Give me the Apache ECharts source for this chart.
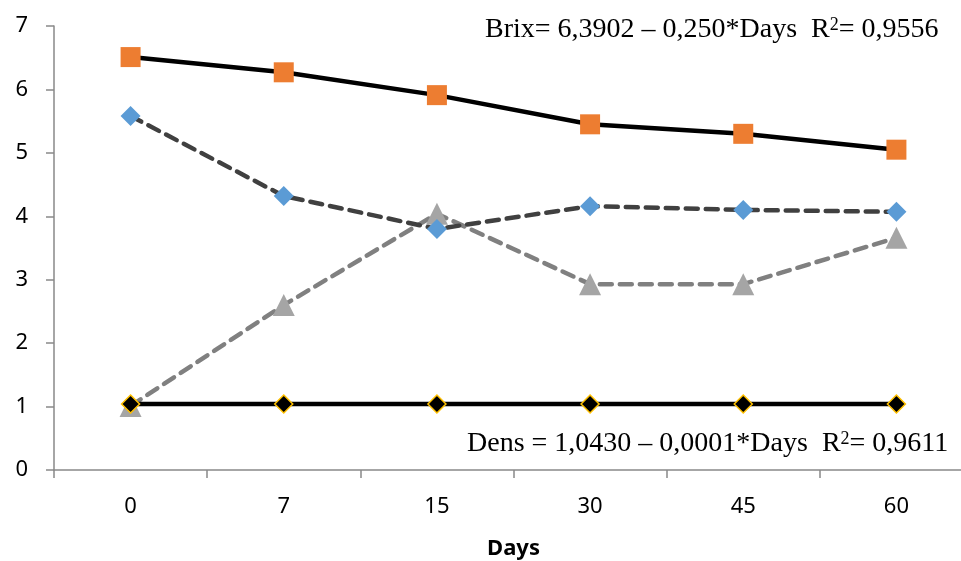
<!DOCTYPE html>
<html>
<head>
<meta charset="utf-8">
<script src="https://cdn.jsdelivr.net/npm/echarts@6/dist/echarts.min.js"></script>
<style>
  html, body { margin: 0; padding: 0; background: #fff; overflow: hidden; }
  #chart { width: 961px; height: 561px; }
</style>
</head>
<body>
<div id="chart"></div>
<script>
// values
const days = ['0', '7', '15', '30', '45', '60'];
const brix = [6.51, 6.27, 5.91, 5.45, 5.30, 5.05];
const blueSeries = [5.58, 4.32, 3.80, 4.16, 4.10, 4.07];
const graySeries = [1.01, 2.60, 4.04, 2.93, 2.93, 3.66];
const dens = [1.04, 1.04, 1.04, 1.04, 1.04, 1.04];
const yTicks = { min: 0, max: 7, interval: 1 };

const chart = echarts.init(document.getElementById('chart'));

const axisColor = '#898989';
const labelFont = '"Noto Sans", sans-serif';
const serif = '"Liberation Serif", "DejaVu Serif", serif';

const eqStyle = {
  fontFamily: serif,
  fontSize: 28,
  fill: '#000',
  rich: {
    n: { fontFamily: serif, fontSize: 28 },
    sup: { fontFamily: serif, fontSize: 18, verticalAlign: 'top', padding: [0, 0, 10, 0] }
  }
};

chart.setOption({
  animation: false,
  backgroundColor: '#fff',
  // the last category band runs past the right edge, as in the original
  grid: { left: 54, top: 26, width: 919, height: 444, outerBoundsMode: 'none' },
  xAxis: {
    type: 'category',
    data: days,
    boundaryGap: true,
    name: 'Days',
    nameLocation: 'middle',
    nameGap: 68,
    nameTextStyle: { fontFamily: labelFont, fontSize: 22, fontWeight: 'bold', color: '#000' },
    axisLine: { lineStyle: { color: axisColor, width: 1.5 } },
    axisTick: { show: true, length: 8, lineStyle: { color: axisColor, width: 1.5 } },
    axisLabel: { fontFamily: labelFont, fontSize: 22, color: '#000', margin: 26 }
  },
  yAxis: {
    type: 'value',
    min: yTicks.min,
    max: yTicks.max,
    interval: yTicks.interval,
    splitLine: { show: false },
    axisLine: { show: true, lineStyle: { color: axisColor, width: 1.5 } },
    axisTick: { show: true, length: 8, lineStyle: { color: axisColor, width: 1.5 } },
    axisLabel: { fontFamily: labelFont, fontSize: 22, color: '#000', margin: 26 }
  },
  series: [
    {
      name: 'Brix',
      type: 'line',
      data: brix,
      symbol: 'rect',
      symbolSize: 20,
      itemStyle: { color: '#ED7D31' },
      lineStyle: { color: '#000', width: 4.5 },
      z: 3
    },
    {
      name: 'S3',
      type: 'line',
      data: graySeries,
      symbol: 'triangle',
      symbolSize: 22,
      itemStyle: { color: '#A5A5A5' },
      lineStyle: { color: '#808080', width: 4.5, type: [12, 8], cap: 'round' },
      z: 4
    },
    {
      name: 'S2',
      type: 'line',
      data: blueSeries,
      symbol: 'diamond',
      symbolSize: 20,
      itemStyle: { color: '#5B9BD5' },
      lineStyle: { color: '#404040', width: 4.5, type: [12, 8], cap: 'round' },
      z: 5
    },
    {
      name: 'Dens',
      type: 'line',
      data: dens,
      symbol: 'diamond',
      symbolSize: 18,
      itemStyle: { color: '#000', borderColor: '#FFC000', borderWidth: 1.5 },
      lineStyle: { color: '#000', width: 4.5 },
      z: 6
    }
  ],
  graphic: [
    {
      type: 'text',
      left: 485,
      top: 16,
      style: Object.assign({}, eqStyle, {
        text: '{n|Brix= 6,3902 – 0,250*Days  R}{sup|2}{n|= 0,9556}'
      })
    },
    {
      type: 'text',
      left: 467,
      top: 430,
      style: Object.assign({}, eqStyle, {
        text: '{n|Dens = 1,0430 – 0,0001*Days  R}{sup|2}{n|= 0,9611}'
      })
    }
  ]
});
</script>
</body>
</html>
